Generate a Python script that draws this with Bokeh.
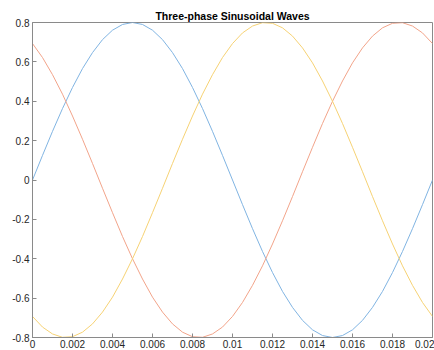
from bokeh.plotting import figure
from bokeh.models import Range1d, FixedTicker, PrintfTickFormatter, LinearAxis
from bokeh.embed import file_html
from bokeh.resources import INLINE

# time (s)
t = [0.0000, 0.0005, 0.0010, 0.0015, 0.0020, 0.0025, 0.0030, 0.0035, 0.0040, 0.0045,
     0.0050, 0.0055, 0.0060, 0.0065, 0.0070, 0.0075, 0.0080, 0.0085, 0.0090, 0.0095,
     0.0100, 0.0105, 0.0110, 0.0115, 0.0120, 0.0125, 0.0130, 0.0135, 0.0140, 0.0145,
     0.0150, 0.0155, 0.0160, 0.0165, 0.0170, 0.0175, 0.0180, 0.0185, 0.0190, 0.0195,
     0.0200]

phase_a = [0.000, 0.125, 0.247, 0.363, 0.470, 0.566, 0.647, 0.713, 0.761, 0.790,
           0.800, 0.790, 0.761, 0.713, 0.647, 0.566, 0.470, 0.363, 0.247, 0.125,
           0.000, -0.125, -0.247, -0.363, -0.470, -0.566, -0.647, -0.713, -0.761, -0.790,
           -0.800, -0.790, -0.761, -0.713, -0.647, -0.566, -0.470, -0.363, -0.247, -0.125,
           0.000]

phase_b = [0.693, 0.622, 0.535, 0.436, 0.325, 0.207, 0.084, -0.042, -0.166, -0.287,
           -0.400, -0.503, -0.595, -0.671, -0.731, -0.773, -0.796, -0.799, -0.782, -0.747,
           -0.693, -0.622, -0.535, -0.436, -0.325, -0.207, -0.084, 0.042, 0.166, 0.287,
           0.400, 0.503, 0.595, 0.671, 0.731, 0.773, 0.796, 0.799, 0.782, 0.747,
           0.693]

phase_c = [-0.693, -0.747, -0.782, -0.799, -0.796, -0.773, -0.731, -0.671, -0.595, -0.503,
           -0.400, -0.287, -0.166, -0.042, 0.084, 0.207, 0.325, 0.436, 0.535, 0.622,
           0.693, 0.747, 0.782, 0.799, 0.796, 0.773, 0.731, 0.671, 0.595, 0.503,
           0.400, 0.287, 0.166, 0.042, -0.084, -0.207, -0.325, -0.436, -0.535, -0.622,
           -0.693]

x_ticks = [0, 0.002, 0.004, 0.006, 0.008, 0.01, 0.012, 0.014, 0.016, 0.018, 0.02]
y_ticks = [-0.8, -0.6, -0.4, -0.2, 0, 0.2, 0.4, 0.6, 0.8]

title = "Three-phase Sinusoidal Waves"
colors = ["#80B4E2", "#F2A48A", "#F6D274"]

FONT = "Liberation Sans"

p = figure(width=434, height=350, output_backend="svg", toolbar_location=None,
           x_range=Range1d(0, 0.02), y_range=Range1d(-0.8, 0.8),
           x_axis_type=None, y_axis_type=None,
           min_border_left=32, min_border_right=2, min_border_top=22, min_border_bottom=0)

p.title.text = title
p.title.text_font = FONT
p.title.text_font_size = "10.5px"
p.title.text_font_style = "bold"
p.title.text_color = "#000000"
p.title.align = "center"
p.title.offset = 0
p.title.standoff = 2

p.outline_line_color = "#8a8a8a"
p.outline_line_width = 1
p.background_fill_color = "white"
p.border_fill_color = "white"

xt = FixedTicker(ticks=x_ticks)
yt = FixedTicker(ticks=y_ticks)
fmt = PrintfTickFormatter(format="%g")

def style_axis(ax):
    ax.axis_line_color = "#8a8a8a"
    ax.axis_line_width = 1
    ax.major_tick_line_color = "#8a8a8a"
    ax.major_tick_in = 4
    ax.major_tick_out = 0
    ax.minor_tick_line_color = None
    ax.major_label_text_font = FONT
    ax.major_label_text_font_size = "10px"
    ax.major_label_text_color = "#262626"
    ax.major_label_standoff = 3

bottom = LinearAxis(ticker=xt, formatter=fmt)
left = LinearAxis(ticker=yt, formatter=fmt)
style_axis(bottom)
style_axis(left)
bottom.major_label_standoff = 2
p.add_layout(bottom, "below")
p.add_layout(left, "left")

p.xgrid.ticker = xt
p.ygrid.ticker = yt
p.xgrid.grid_line_color = "#e3e3e3"
p.ygrid.grid_line_color = "#e3e3e3"

for ys, c in zip([phase_a, phase_b, phase_c], colors):
    p.line(t, ys, line_color=c, line_width=1)

open("out.html", "w").write(file_html(p, INLINE))
